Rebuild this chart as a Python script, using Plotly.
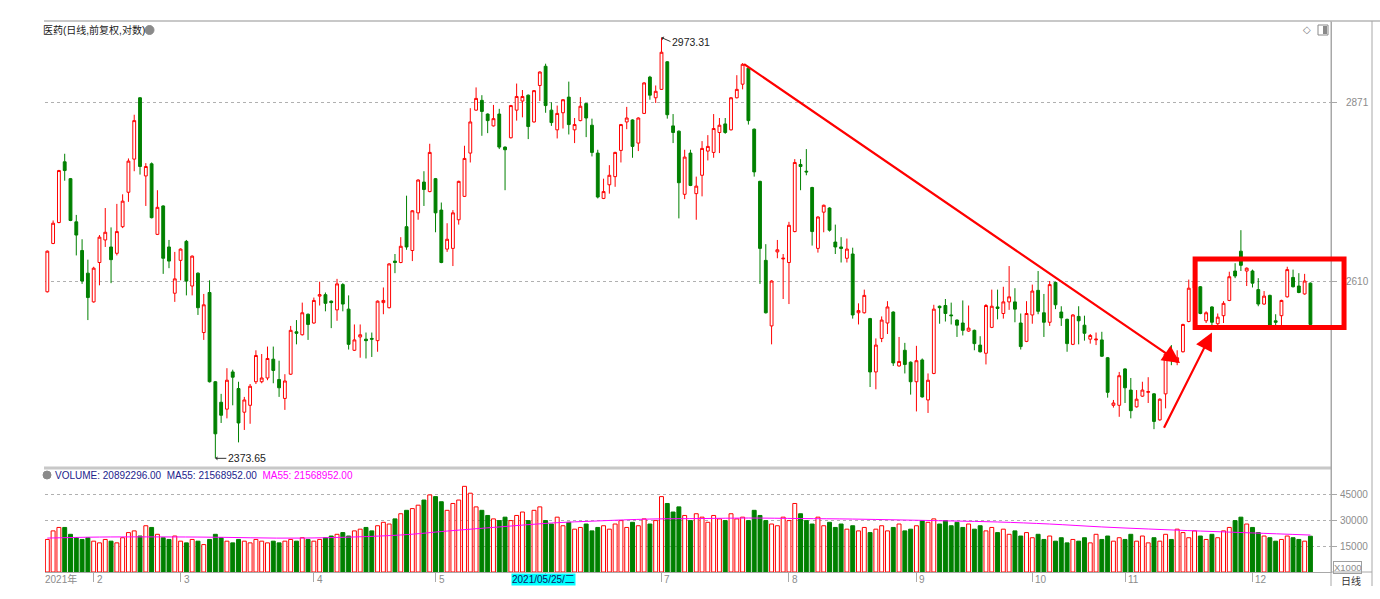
import math
import plotly.graph_objects as go

# ---------------- data ----------------
opens = [2595,2663,2693,2782,2757,2694,2653,2621,2581,2636,2668,2658,2649,2687,2737,2786,2879,2761,2779,2676,
         2717,2658,2593,2639,2666,2603,2621,2539,2594,2473,2446,2437,2486,2464,2433,2442,2473,2473,2478,2503,
         2476,2451,2483,2540,2536,2564,2552,2589,2591,2582,2570,2605,2571,2515,2533,2530,2531,2528,2580,2573,
         2638,2636,2687,2653,2707,2752,2738,2757,2711,2655,2656,2697,2731,2795,2860,2875,2854,2836,2854,2804,
         2818,2860,2874,2883,2842,2898,2928,2860,2830,2856,2880,2830,2844,2870,2837,2795,2728,2748,2760,2799,
         2842,2845,2810,2855,2911,2879,2892,2935,2836,2828,2734,2795,2735,2762,2798,2796,2826,2839,2830,2879,
         2900,2925,2831,2753,2639,2548,2651,2641,2636,2680,2778,2768,2744,2656,2708,2714,2665,2658,2642,2648,
         2566,2566,2558,2486,2531,2552,2567,2494,2515,2499,2473,2502,2449,2484,2575,2576,2563,2556,2552,2541,
         2542,2522,2511,2546,2574,2565,2581,2581,2552,2527,2563,2597,2566,2553,2608,2567,2557,2523,2561,2549,
         2530,2529,2529,2505,2442,2442,2490,2462,2440,2454,2459,2457,2423,2457,2504,2499,2513,2554,2600,2602,
         2555,2574,2551,2562,2583,2624,2652,2624,2624,2598,2578,2590,2555,2562,2588,2615,2603,2592,2607]
highs = [2653,2696,2770,2794,2758,2704,2669,2640,2630,2675,2714,2686,2720,2734,2787,2853,2880,2780,2781,2740,
         2718,2668,2651,2656,2668,2646,2622,2592,2611,2474,2457,2491,2489,2473,2453,2470,2515,2510,2520,2520,
         2501,2483,2548,2556,2580,2565,2587,2609,2594,2583,2613,2607,2590,2550,2550,2539,2539,2583,2601,2635,
         2648,2672,2732,2711,2756,2768,2809,2758,2722,2692,2711,2754,2806,2863,2895,2883,2855,2868,2862,2805,
         2868,2901,2891,2884,2891,2920,2932,2872,2867,2877,2904,2848,2880,2871,2847,2800,2757,2777,2797,2839,
         2865,2846,2849,2903,2913,2898,2973.31,2936,2854,2829,2800,2800,2760,2813,2822,2854,2848,2848,2880,2914,
         2933,2926,2832,2754,2662,2611,2668,2648,2694,2786,2786,2801,2745,2702,2719,2715,2690,2672,2670,2657,
         2579,2598,2559,2531,2561,2582,2568,2533,2525,2500,2521,2504,2484,2577,2576,2585,2580,2557,2583,2576,
         2543,2534,2578,2598,2598,2602,2631,2600,2565,2582,2605,2624,2592,2610,2609,2575,2558,2564,2575,2562,
         2537,2539,2540,2506,2449,2486,2491,2478,2462,2473,2479,2458,2451,2512,2522,2515,2551,2612,2622,2603,
         2568,2575,2565,2582,2623,2635,2682,2629,2626,2614,2596,2591,2564,2584,2630,2626,2621,2620,2608]
lows = [2594,2662,2692,2754,2695,2646,2606,2556,2580,2604,2658,2607,2646,2685,2723,2768,2763,2717,2699,2675,
        2620,2628,2581,2611,2590,2590,2563,2529,2472,2373.65,2419,2425,2442,2394,2410,2418,2470,2471,2475,2471,
        2453,2436,2482,2523,2535,2529,2551,2576,2568,2545,2555,2568,2516,2514,2505,2504,2506,2513,2564,2572,
        2621,2635,2654,2638,2697,2717,2737,2679,2635,2651,2631,2690,2730,2781,2859,2821,2825,2835,2801,2740,
        2817,2844,2849,2816,2841,2874,2856,2836,2817,2832,2823,2810,2843,2819,2790,2728,2727,2735,2745,2781,
        2831,2788,2798,2854,2876,2871,2891,2847,2810,2699,2727,2746,2697,2731,2784,2788,2795,2824,2829,2878,
        2892,2838,2760,2606,2565,2523,2642,2585,2578,2679,2740,2762,2660,2650,2679,2680,2648,2636,2636,2558,
        2550,2565,2466,2463,2526,2537,2494,2493,2484,2456,2434,2452,2432,2483,2551,2554,2550,2533,2535,2540,
        2515,2512,2496,2545,2557,2558,2570,2553,2516,2526,2551,2564,2533,2548,2571,2548,2513,2522,2523,2528,
        2524,2522,2506,2452,2439,2427,2445,2425,2439,2453,2445,2411,2422,2438,2495,2495,2512,2553,2585,2564,
        2552,2549,2549,2552,2582,2614,2624,2603,2601,2575,2577,2548,2549,2549,2587,2601,2593,2591,2549]
closes = [2652,2692,2769,2769,2696,2675,2610,2587,2628,2672,2679,2640,2680,2724,2783,2844,2775,2775,2700,2715,
          2642,2638,2613,2655,2610,2645,2573,2577,2473,2405,2429,2475,2479,2419,2449,2467,2508,2478,2504,2488,
          2465,2474,2542,2538,2566,2550,2583,2591,2579,2580,2606,2578,2523,2529,2536,2528,2530,2582,2583,2634,
          2636,2659,2658,2710,2755,2741,2796,2707,2636,2669,2707,2753,2787,2842,2878,2858,2844,2847,2804,2800,
          2867,2881,2881,2835,2890,2919,2867,2841,2855,2876,2838,2838,2866,2848,2796,2730,2738,2762,2796,2838,
          2848,2805,2848,2902,2883,2889,2950,2853,2826,2751,2789,2747,2746,2802,2805,2832,2837,2826,2879,2892,
          2931,2844,2767,2656,2566,2610,2654,2642,2689,2781,2775,2767,2680,2701,2718,2682,2658,2656,2655,2563,
          2569,2590,2486,2522,2556,2574,2498,2500,2496,2473,2501,2453,2475,2571,2573,2565,2562,2549,2542,2545,
          2524,2513,2576,2575,2572,2581,2588,2571,2520,2565,2596,2568,2553,2605,2577,2559,2524,2563,2555,2538,
          2535,2530,2507,2459,2445,2481,2465,2435,2450,2462,2460,2421,2450,2510,2503,2505,2550,2600,2610,2565,
          2566,2553,2560,2579,2616,2617,2632,2628,2607,2578,2589,2549,2553,2583,2626,2602,2594,2610,2550]
# volume, in units of 1000 shares (axis reads X1000)
volumes = [19000,24000,26000,26000,22000,20000,19000,20000,18000,17000,19000,18000,17000,20000,23000,24000,21000,27000,26000,22000,
           20000,19000,21000,18000,17000,19000,18000,16000,19000,22000,20000,18000,17000,19000,18000,17000,19000,18000,17000,18000,
           17000,18000,19000,18000,20000,19000,18000,19000,20000,21000,22000,23000,21000,24000,25000,26000,24000,27000,29000,28000,
           31000,34000,36000,37000,39000,42000,45000,44000,41000,36000,40000,42000,50000,46000,38000,36000,33000,31000,30000,32000,
           30000,33000,35000,30000,36000,38000,30000,28000,32000,27000,29000,25000,26000,28000,24000,26000,27000,25000,28000,30000,
           26000,29000,27000,31000,28000,30000,44000,40000,35000,38000,33000,30000,34000,32000,29000,33000,31000,30000,34000,31000,
           32000,30000,36000,33000,30000,28000,27000,32000,30000,40000,34000,30000,28000,32000,27000,29000,26000,28000,25000,27000,
           24000,26000,23000,25000,27000,24000,26000,28000,24000,25000,27000,30000,29000,31000,28000,30000,27000,29000,26000,28000,
           25000,27000,24000,26000,23000,25000,22000,24000,21000,23000,20000,22000,19000,21000,18000,20000,17000,19000,18000,20000,
           17000,22000,19000,21000,18000,20000,19000,22000,18000,21000,17000,20000,18000,22000,19000,25000,23000,20000,24000,21000,
           19000,22000,20000,24000,26000,30000,32000,28000,26000,23000,21000,20000,18000,19000,21000,20000,19000,18000,20892.296]
# MA55 of volume, read at a few bars
ma55_idx = [0, 9, 26, 44, 61, 69, 78, 87, 95, 104, 113, 121, 130, 139, 147, 156, 164, 173, 182, 190, 199, 208, 218]
ma55_val = [19800, 20400, 20400, 19800, 21600, 23900, 26300, 28600, 29800, 30900, 31200, 31500, 31200, 30900,
            30400, 29800, 29200, 28000, 26300, 25100, 23900, 22800, 21568.952]

month_idx = [8, 23, 46, 67, 86, 106, 128, 150, 170, 186, 208]
month_lbl = ["2", "3", "4", "5", "", "7", "8", "9", "10", "11", "12"]   # June label is hidden under the cursor tag
year_lbl = "2021年"
price_ticks = [2610, 2871]
vol_ticks = [15000, 30000, 45000]
cursor_idx = 80
cursor_lbl = "2021/05/25/二"
hi_idx, lo_idx = 106, 29
trend_from = (120, 2933)      # start of falling trend line (bar index, price)
trend_to = (195.5, 2498)
rise_from = (192.6, 2411)
rise_to = (201.0, 2539)
box_x = (198.1, 223.8)        # consolidation box (bar index)
box_p = (2546, 2641)          # price bounds

n = len(closes)
xs = list(range(n))

RED = "#ff0000"
GREEN = "#008000"
GRAY = "#8c8c8c"
AX = "#a8a8a8"
FONT = "Liberation Sans, Noto Sans CJK SC, Arial, sans-serif"

XMIN, XMAX = -0.4, 221.55
D0 = 0.18875
LO, HI = 3.37317, 3.47709
VMAX = 60700

def xp(i):
    return (i - XMIN) / (XMAX - XMIN)

def yp(p):
    return D0 + (math.log10(p) - LO) / (HI - LO) * (1 - D0)

# pixel helpers for decorations (plot area: x 45..1331, y 21..572)
def PX(x):
    return (x - 45) / 1286.0

def PY(y):
    return (572 - y) / 551.0

up = [c >= o for o, c in zip(opens, closes)]

fig = go.Figure()
fig.add_trace(go.Candlestick(
    x=xs, open=opens, high=highs, low=lows, close=closes,
    increasing=dict(line=dict(color=RED, width=1), fillcolor="white"),
    decreasing=dict(line=dict(color=GREEN, width=1), fillcolor=GREEN),
    whiskerwidth=0, hoverinfo="skip", showlegend=False,
    xaxis="x", yaxis="y"))

fig.add_trace(go.Bar(
    x=[i for i in xs if up[i]], y=[volumes[i] for i in xs if up[i]], width=0.68,
    marker=dict(color="white", line=dict(color=RED, width=1)),
    hoverinfo="skip", showlegend=False, xaxis="x2", yaxis="y2"))
fig.add_trace(go.Bar(
    x=[i for i in xs if not up[i]], y=[volumes[i] for i in xs if not up[i]], width=0.68,
    marker=dict(color=GREEN, line=dict(color=GREEN, width=1)),
    hoverinfo="skip", showlegend=False, xaxis="x2", yaxis="y2"))

fig.add_trace(go.Scatter(
    x=ma55_idx, y=ma55_val, mode="lines", line=dict(color="#ff00ff", width=1, shape="spline"),
    hoverinfo="skip", showlegend=False, xaxis="x2", yaxis="y2"))

shapes = []
# frame lines
shapes.append(dict(type="line", xref="paper", yref="paper", x0=PX(44), x1=PX(1380), y0=1, y1=1,
                   line=dict(color="#c8c8c8", width=2)))
shapes.append(dict(type="line", xref="paper", yref="paper", x0=PX(44), x1=1, y0=D0, y1=D0,
                   line=dict(color="#c8c8c8", width=3)))
shapes.append(dict(type="line", xref="paper", yref="paper", x0=1, x1=PX(1372), y0=0, y1=0,
                   line=dict(color=AX, width=1)))
shapes.append(dict(type="line", xref="paper", yref="paper", x0=1, x1=1, y0=PY(586), y1=1,
                   line=dict(color=AX, width=1)))
shapes.append(dict(type="line", xref="paper", yref="paper", x0=PX(1372), x1=PX(1372), y0=PY(586), y1=1,
                   line=dict(color=AX, width=1)))
# consolidation box
shapes.append(dict(type="rect", xref="paper", yref="paper",
                   x0=xp(box_x[0]), x1=xp(box_x[1]), y0=yp(box_p[0]), y1=yp(box_p[1]),
                   line=dict(color=RED, width=5), fillcolor="rgba(0,0,0,0)", layer="above"))
# small icons
shapes.append(dict(type="circle", xref="paper", yref="paper", x0=PX(145), x1=PX(154), y0=PY(34.5), y1=PY(25.5),
                   line=dict(color="#8a8a8a", width=1), fillcolor="#8a8a8a"))
shapes.append(dict(type="circle", xref="paper", yref="paper", x0=PX(43), x1=PX(51), y0=PY(479), y1=PY(471),
                   line=dict(color="#8a8a8a", width=1), fillcolor="#8a8a8a"))
shapes.append(dict(type="rect", xref="paper", yref="paper", x0=PX(1318), x1=PX(1328), y0=PY(35), y1=PY(25),
                   line=dict(color="#8a8a8a", width=1), fillcolor="white"))
shapes.append(dict(type="rect", xref="paper", yref="paper", x0=PX(1323), x1=PX(1327), y0=PY(34), y1=PY(26),
                   line=dict(color="#8a8a8a", width=0), fillcolor="#8a8a8a"))

ann = []
ann.append(dict(xref="paper", yref="paper", x=PX(41), y=PY(30), xanchor="left", yanchor="middle",
                text="医药(日线,前复权,对数)", showarrow=False,
                font=dict(family=FONT, size=10, color="#1a1a1a")))
ann.append(dict(xref="paper", yref="paper", x=PX(1307), y=PY(30), xanchor="center", yanchor="middle",
                text="◇", showarrow=False, font=dict(family="DejaVu Sans", size=10, color="#808080")))
ann.append(dict(xref="paper", yref="paper", x=PX(53), y=PY(475), xanchor="left", yanchor="middle",
                text=('<span style="color:#23238c">VOLUME: 20892296.00  MA55: 21568952.00</span>'
                      '  <span style="color:#ff00ff">MA55: 21568952.00</span>'),
                showarrow=False, font=dict(family=FONT, size=10)))
# high / low labels
ann.append(dict(xref="x", yref="y", x=hi_idx, y=math.log10(highs[hi_idx]), ax=9, ay=4,
                xanchor="left", yanchor="middle", text=f"{highs[hi_idx]:.2f}",
                showarrow=True, arrowhead=1, arrowsize=0.7, arrowwidth=1, arrowcolor="#333333",
                font=dict(family=FONT, size=10.5, color="#222222")))
ann.append(dict(xref="x", yref="y", x=lo_idx, y=math.log10(lows[lo_idx]), ax=11, ay=0,
                xanchor="left", yanchor="middle", text=f"{lows[lo_idx]:.2f}",
                showarrow=True, arrowhead=1, arrowsize=0.7, arrowwidth=1, arrowcolor="#333333",
                font=dict(family=FONT, size=10.5, color="#222222")))
# trend arrows
for (a, b) in [(trend_from, trend_to), (rise_from, rise_to)]:
    ann.append(dict(xref="x", yref="y", axref="x", ayref="y",
                    x=b[0], y=math.log10(b[1]), ax=a[0], ay=math.log10(a[1]),
                    text="", showarrow=True, arrowhead=2, arrowsize=1.6, arrowwidth=2.2, arrowcolor=RED))
# x-axis labels
ann.append(dict(xref="paper", yref="paper", x=PX(43), y=PY(579), xanchor="left", yanchor="middle",
                text=year_lbl, showarrow=False, font=dict(family=FONT, size=10, color=GRAY)))
for i, t in zip(month_idx, month_lbl):
    if not t:
        continue
    ann.append(dict(xref="x2", yref="paper", x=i, y=PY(579), xanchor="left", yanchor="middle",
                    xshift=1, text=t, showarrow=False, font=dict(family=FONT, size=10, color=GRAY)))
ann.append(dict(xref="x2", yref="paper", x=cursor_idx, y=PY(579), xanchor="left", yanchor="middle",
                text=cursor_lbl, showarrow=False, bgcolor="#00ffff", borderpad=0,
                font=dict(family=FONT, size=10, color="#101060")))
ann.append(dict(xref="paper", yref="paper", x=PX(1348), y=PY(567), xanchor="center", yanchor="middle",
                text="X1000", showarrow=False, bordercolor="#a0a0a0", borderwidth=1, borderpad=0,
                font=dict(family=FONT, size=9.5, color=GRAY)))
ann.append(dict(xref="paper", yref="paper", x=PX(1351), y=PY(580), xanchor="center", yanchor="middle",
                text="日线", showarrow=False, font=dict(family="Noto Sans CJK SC", size=10, color="#333333")))

fig.update_layout(
    width=1380, height=599,
    margin=dict(l=45, r=49, t=21, b=27),
    paper_bgcolor="white", plot_bgcolor="white",
    showlegend=False, bargap=0, barmode="overlay",
    font=dict(family=FONT, size=10, color=GRAY),
    xaxis=dict(domain=[0, 1], range=[XMIN, XMAX], anchor="y", showgrid=False, zeroline=False,
               showticklabels=False, ticks="", showline=False, rangeslider=dict(visible=False)),
    yaxis=dict(domain=[D0, 1], type="log", range=[LO, HI], side="right", anchor="x",
               tickvals=price_ticks, ticktext=[str(v) for v in price_ticks],
               showgrid=True, gridcolor="#b0b0b0", griddash="dot", gridwidth=1,
               ticks="outside", ticklen=5, tickcolor=AX, ticklabelstandoff=7,
               showline=True, linecolor=AX, linewidth=1, zeroline=False,
               tickfont=dict(family=FONT, size=10, color=GRAY)),
    xaxis2=dict(domain=[0, 1], range=[XMIN, XMAX], anchor="y2", showgrid=False, zeroline=False,
                tickvals=month_idx, showticklabels=False, ticks="outside", ticklen=9, tickcolor=AX,
                showline=True, linecolor=AX, linewidth=1),
    yaxis2=dict(domain=[0, D0], range=[0, VMAX], side="right", anchor="x2",
                tickvals=vol_ticks, ticktext=[str(v) for v in vol_ticks],
                showgrid=True, gridcolor="#b0b0b0", griddash="dot", gridwidth=1,
                ticks="outside", ticklen=5, tickcolor=AX, ticklabelstandoff=1,
                showline=True, linecolor=AX, linewidth=1, zeroline=False,
                tickfont=dict(family=FONT, size=10, color=GRAY)),
    shapes=shapes, annotations=ann,
)

fig.write_html("out.html", config={"displayModeBar": False, "staticPlot": True},
               post_script="document.body.style.margin='0';document.body.style.padding='0';"
                           "document.documentElement.style.overflow='hidden';")
